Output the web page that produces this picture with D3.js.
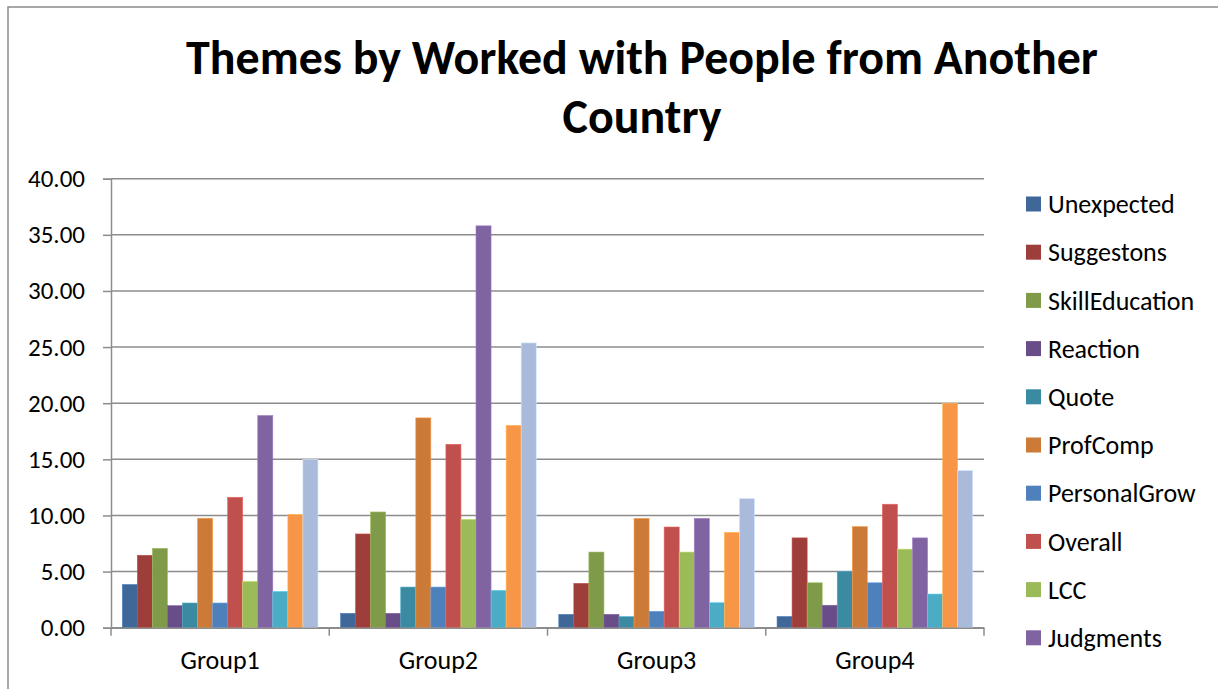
<!DOCTYPE html>
<html>
<head>
<meta charset="utf-8">
<script src="https://cdn.jsdelivr.net/npm/d3@7"></script>
<style>
  html, body { margin: 0; padding: 0; background: #fff; }
  svg { display: block; }
</style>
</head>
<body>
<svg id="chart" width="1218" height="689"></svg>
<script>
// Groups along the x axis
const groups = ["Group1", "Group2", "Group3", "Group4"];

// Theme series (the last three are not listed in the legend)
const seriesNames = ["Unexpected", "Suggestons", "SkillEducation", "Reaction", "Quote",
  "ProfComp", "PersonalGrow", "Overall", "LCC", "Judgments", "Series 11", "Series 12", "Series 13"];

const seriesColors = ["#3F6899", "#9E3E3B", "#7F9A48", "#694D88", "#3A8BA1", "#CB7B37",
  "#4E80BC", "#C0504D", "#9BBB59", "#8064A1", "#4BACC6", "#F79646", "#AABADA"];

// Values per series, one per group
const unexpected     = [3.85, 1.28, 1.19, 1.00];
const suggestons     = [6.45, 8.35, 3.95, 8.00];
const skillEducation = [7.07, 10.31, 6.74, 4.00];
const reaction       = [1.96, 1.28, 1.19, 2.00];
const quote          = [2.20, 3.62, 0.98, 5.00];
const profComp       = [9.75, 18.69, 9.74, 9.00];
const personalGrow   = [2.20, 3.62, 1.46, 4.00];
const overall        = [11.62, 16.34, 8.97, 11.00];
const lcc            = [4.13, 9.66, 6.74, 7.00];
const judgments      = [18.90, 35.80, 9.74, 8.00];
const series11       = [3.24, 3.33, 2.23, 3.00];
const series12       = [10.10, 18.03, 8.50, 20.00];
const series13       = [15.00, 25.37, 11.50, 14.00];

const yTicks = [0, 5, 10, 15, 20, 25, 30, 35, 40];
const legendCount = 10;

const seriesValues = [unexpected, suggestons, skillEducation, reaction, quote, profComp,
  personalGrow, overall, lcc, judgments, series11, series12, series13];

const svg = d3.select("#chart");
const font = "Carlito, Lato, 'Open Sans', sans-serif";

// Outer chart frame
svg.append("rect")
  .attr("x", 8).attr("y", 7).attr("width", 1230).attr("height", 700)
  .attr("fill", "#fff").attr("stroke", "#8a8a8a").attr("stroke-width", 1.5);

// Plot area
const plot = { left: 111, right: 984, top: 178.7, bottom: 627.7 };

const x0 = d3.scaleBand().domain(groups).range([plot.left, plot.right]).paddingInner(0).paddingOuter(0);
const bandInnerPad = 0.75 / 14.5; // gap of 1.5 bar widths split over both sides
const x1 = d3.scaleBand().domain(seriesNames)
  .range([x0.bandwidth() * bandInnerPad, x0.bandwidth() * (1 - bandInnerPad)])
  .padding(0);
const y = d3.scaleLinear().domain([0, 40]).range([plot.bottom, plot.top]);

// Gridlines
svg.append("g")
  .selectAll("line")
  .data(yTicks)
  .join("line")
  .attr("x1", plot.left).attr("x2", plot.right)
  .attr("y1", d => y(d)).attr("y2", d => y(d))
  .attr("stroke", "#8c8c8c").attr("stroke-width", 1.5);

// Bars
const groupG = svg.append("g")
  .selectAll("g")
  .data(groups)
  .join("g")
  .attr("transform", g => `translate(${x0(g)},0)`);

groupG.selectAll("rect")
  .data((g, gi) => seriesNames.map((s, si) => ({ s, si, v: seriesValues[si][gi] })))
  .join("rect")
  .attr("x", d => x1(d.s))
  .attr("width", x1.bandwidth())
  .attr("y", d => y(d.v))
  .attr("height", d => y(0) - y(d.v))
  .attr("fill", d => seriesColors[d.si])
  .attr("stroke", d => d3.color(seriesColors[d.si]).brighter(0.6))
  .attr("stroke-width", 0.6);

// Y axis
const yAxis = svg.append("g")
  .attr("transform", `translate(${plot.left},0)`)
  .call(d3.axisLeft(y).tickValues(yTicks).tickFormat(d3.format(".2f")).tickSize(8).tickPadding(18));
yAxis.select(".domain").attr("stroke", "#8c8c8c").attr("stroke-width", 1.5);
yAxis.selectAll(".tick line").attr("stroke", "#8c8c8c").attr("stroke-width", 1.5);
yAxis.selectAll(".tick text")
  .attr("fill", "#000").style("font-family", font).style("font-size", "25px");

// X axis
const xAxis = svg.append("g")
  .attr("transform", `translate(0,${plot.bottom})`)
  .call(d3.axisBottom(x0).tickSize(0).tickPadding(23));
xAxis.select(".domain").attr("stroke", "#8c8c8c").attr("stroke-width", 1.5);
xAxis.selectAll(".tick text")
  .attr("fill", "#000").style("font-family", font).style("font-size", "26px");
// Group separator ticks
const boundaries = groups.map(g => x0(g)).concat([x0(groups[groups.length - 1]) + x0.bandwidth()]);
xAxis.append("g").selectAll("line")
  .data(boundaries)
  .join("line")
  .attr("x1", d => d).attr("x2", d => d)
  .attr("y1", 0).attr("y2", 8)
  .attr("stroke", "#8c8c8c").attr("stroke-width", 1.5);

// Title (two lines)
const titleLines = ["Themes by Worked with People from Another", "Country"];
const title = svg.append("g");
title.selectAll("text")
  .data(titleLines)
  .join("text")
  .attr("x", 642)
  .attr("y", (d, i) => 74 + i * 59)
  .attr("text-anchor", "middle")
  .style("font-family", font)
  .style("font-weight", "bold")
  .style("font-size", "44px")
  .attr("fill", "#000")
  .text(d => d);
// Scale the title font so the first line spans its intended width
{
  const first = title.select("text").node();
  const w = first.getComputedTextLength();
  const target = 912;
  const size = 44 * target / w;
  title.selectAll("text").style("font-size", size + "px");
}

// Legend
const legend = svg.append("g")
  .selectAll("g")
  .data(seriesNames.slice(0, legendCount))
  .join("g")
  .attr("transform", (d, i) => `translate(1026,${204 + i * 48.2})`);
legend.append("rect")
  .attr("x", 0).attr("y", -7.5).attr("width", 15).attr("height", 15)
  .attr("fill", (d, i) => seriesColors[i]);
legend.append("text")
  .attr("x", 22).attr("y", 0).attr("dy", "0.35em")
  .style("font-family", font).style("font-size", "26px")
  .attr("fill", "#000")
  .text(d => d);
</script>
</body>
</html>
